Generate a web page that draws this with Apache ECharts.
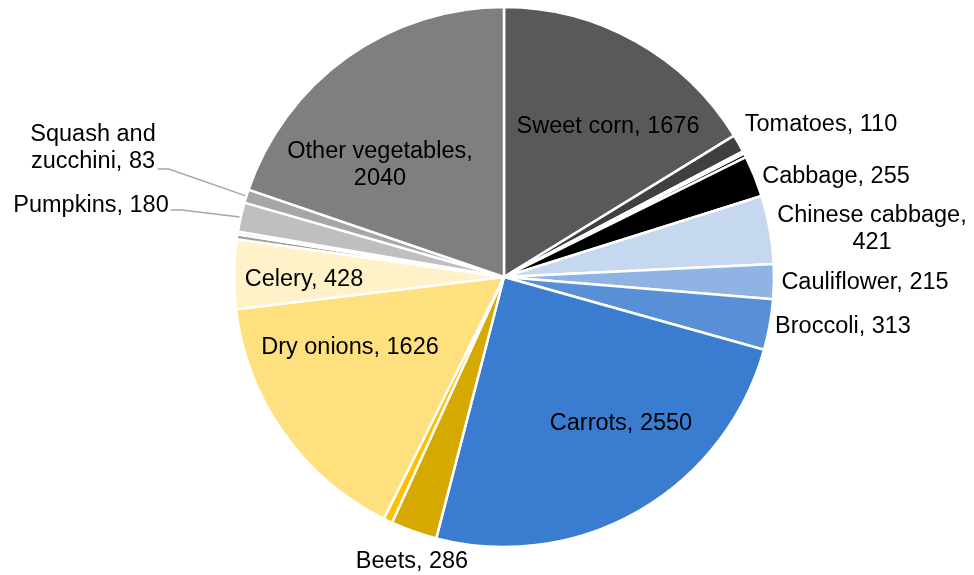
<!DOCTYPE html>
<html>
<head>
<meta charset="utf-8">
<script src="https://cdn.jsdelivr.net/npm/echarts@6/dist/echarts.min.js"></script>
<style>
  html, body { margin: 0; padding: 0; background: #ffffff; }
  #chart { width: 974px; height: 575px; }
</style>
</head>
<body>
<div id="chart"></div>
<script>
// Vegetable volumes, clockwise from 12 o'clock. Blank names are slivers without labels.
const categories = [
  'Sweet corn', 'Tomatoes', '', '', 'Cabbage', 'Chinese cabbage', 'Cauliflower',
  'Broccoli', 'Carrots', 'Beets', '', 'Dry onions', 'Celery', '', '',
  'Pumpkins', 'Squash and zucchini', 'Other vegetables'
];
const values = [
  1676, 110, 15, 25, 255, 421, 215,
  313, 2550, 286, 55, 1626, 428, 30, 18,
  180, 83, 2040
];
const sliceColors = [
  '#595959', '#404040', '#c8c8c8', '#0d0d0d', '#000000', '#c6d8f0', '#8fb4e3',
  '#598fd6', '#3a7cd0', '#d5a900', '#ffc000', '#ffe07f', '#fff2c8', '#a0a0a0', '#d0d0d0',
  '#bfbfbf', '#a6a6a6', '#7f7f7f'
];

// Labels that wrap onto two lines
const wrappedAfterComma = ['Chinese cabbage', 'Other vegetables'];

// Label placement (label centre) and leader-line anchors
const CX = 504, CY = 277, R = 270;
const labelPos = {
  'Sweet corn': [608, 127],
  'Tomatoes': [821, 125],
  'Cabbage': [836, 177],
  'Chinese cabbage': [872, 229],
  'Cauliflower': [865, 283],
  'Broccoli': [843, 327],
  'Carrots': [621, 424],
  'Beets': [412, 562],
  'Dry onions': [350, 348],
  'Celery': [304, 280],
  'Pumpkins': [91, 206],
  'Squash and zucchini': [93, 148],
  'Other vegetables': [380, 165]
};
const leaderDy = { 'Pumpkins': 4, 'Squash and zucchini': 21 };
const insideLabels = ['Sweet corn', 'Carrots', 'Dry onions', 'Celery', 'Other vegetables'];

const total = values.reduce((a, b) => a + b, 0);
const cumBefore = values.map((v, i) => values.slice(0, i).reduce((a, b) => a + b, 0));

const data = categories.map((name, i) => {
  const item = {
    name: name,
    value: values[i],
    itemStyle: { color: sliceColors[i] }
  };
  if (!name) {
    item.label = { show: false };
    item.labelLine = { show: false };
  } else if (insideLabels.includes(name)) {
    item.label = { position: 'inside' };
  } else {
    item.label = { position: 'outside' };
    item.labelLine = { show: leaderDy[name] != null };
  }
  return item;
});

const chart = echarts.init(document.getElementById('chart'));
chart.setOption({
  backgroundColor: '#ffffff',
  animation: false,
  series: [{
    type: 'pie',
    center: [CX, CY],
    radius: R,
    startAngle: 90,
    clockwise: true,
    avoidLabelOverlap: false,
    data: data,
    itemStyle: { borderColor: '#ffffff', borderWidth: 2.5 },
    emphasis: { disabled: true },
    label: {
      show: true,
      color: '#000000',
      fontFamily: '"Liberation Sans", Arial, sans-serif',
      fontSize: 23.5,
      lineHeight: 27,
      align: 'center',
      formatter: function (p) {
        if (p.name === 'Squash and zucchini') return 'Squash and\nzucchini, ' + p.value;
        if (wrappedAfterComma.includes(p.name)) return p.name + ',\n' + p.value;
        return p.name + ', ' + p.value;
      }
    },
    labelLine: {
      lineStyle: { color: '#a6a6a6', width: 1.5 },
      length: 10,
      length2: 10
    },
    labelLayout: function (params) {
      const name = categories[params.dataIndex];
      const pos = labelPos[name];
      if (!pos) return {};
      const out = {
        x: pos[0],
        y: pos[1],
        align: 'center',
        verticalAlign: 'middle',
        hideOverlap: false
      };
      if (leaderDy[name] != null) {
        const i = params.dataIndex;
        const mid = (cumBefore[i] + values[i] / 2) / total * Math.PI * 2;
        const ex = CX + (R - 1) * Math.sin(mid);
        const ey = CY - (R - 1) * Math.cos(mid);
        const sx = pos[0] + params.labelRect.width / 2 + 2;
        const sy = pos[1] + leaderDy[name];
        out.labelLinePoints = [[sx, sy], [sx + 11, sy], [ex, ey]];
      }
      return out;
    }
  }]
});
</script>
</body>
</html>
